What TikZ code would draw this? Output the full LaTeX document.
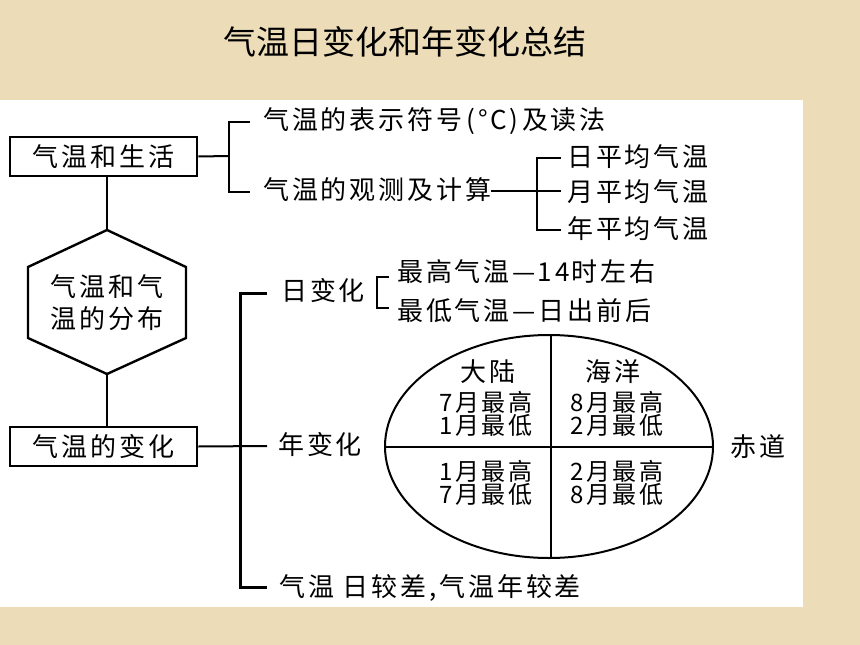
\documentclass[tikz,border=0pt]{standalone}
\usepackage{fontspec}
\setmainfont{Noto Sans CJK SC}
\newfontfamily\cjk[LetterSpace=11]{Noto Sans CJK SC}
\newfontfamily\cjkn{Noto Sans CJK SC}
\newfontfamily\cjktitle{Noto Sans CJK SC}
\usetikzlibrary{shapes.geometric}
\definecolor{parch}{RGB}{236,220,184}
\tikzset{
  lbl/.style={inner sep=0pt, font=\cjk\fontsize{26}{26}\selectfont, text height=20pt, text depth=3pt},
  lblw/.style={lbl, anchor=west},
  qlbl/.style={inner sep=0pt, font=\cjk\fontsize{24}{24}\selectfont, text height=17pt, text depth=3pt},
  boxnode/.style={draw, line width=2.6pt, inner sep=0pt, minimum width=187pt, minimum height=39pt, font=\cjk\fontsize{26}{26}\selectfont},
  conn/.style={line width=2pt},
  brk/.style={line width=2.6pt},
}
\begin{document}
\begin{tikzpicture}[x=1pt,y=-1pt]
\fill[parch] (0,0) rectangle (860,645);
\useasboundingbox (0,0) rectangle (860,645);
\fill[white] (0,100) rectangle (803,607);

% title
\node[inner sep=0pt, font=\cjktitle\fontsize{33}{33}\selectfont] (title) at (405,42) {气温日变化和年变化总结};

% left column
\node[boxnode] (b1) at (103.5,156.5) {气温和生活};
\node[boxnode] (b3) at (103.5,446.5) {气温的变化};

\coordinate (hT) at (107,230);
\coordinate (hUL) at (28,267);
\coordinate (hLL) at (28,338);
\coordinate (hB) at (107,374);
\coordinate (hLR) at (186,338);
\coordinate (hUR) at (186,267);
\draw[line width=2.4pt, line join=miter] (hT) -- (hUL) -- (hLL) -- (hB) -- (hLR) -- (hUR) -- cycle;
\node[lbl] (h1) at (107,288) {气温和气};
\node[lbl] (h2) at (107,320) {温的分布};

\draw[conn] (b1.south -| hT) -- (hT);
\draw[conn] (hB) -- (b3.north -| hB);

% upper branch
\coordinate (k1) at (229,156);
\draw[conn] (b1.east) -- (k1);
\node[lblw] (t1) at (263,121) {气温的表示符号\hspace{4pt}(\hspace{3pt}°C\hspace{2pt})\hspace{4pt}及读法};
\node[lblw] (t2) at (263,191) {气温的观测及计算};
\draw[brk] (250,122) -- (229,122) -- (229,192) -- (250,192);

\node[lblw] (a1) at (567,158) {日平均气温};
\node[lblw] (a2) at (567,193) {月平均气温};
\node[lblw] (a3) at (567,230) {年平均气温};
\coordinate (j2) at (561,191);
\draw[conn] (t2.east |- j2) -- (j2);
\draw[brk] (561,158) -- (537,158) -- (537,230) -- (561,230);

% lower branch
\coordinate (vt) at (240,293);
\coordinate (vb) at (240,587);
\node[lblw] (d1) at (281,292) {日变化};
\node[lblw] (y1) at (278,446) {年变化};
\node[lblw] (c1) at (279,588) {气温 日较差,\hspace{3pt}气温年较差};
\draw[line width=3pt] (267,293) -- (vt) -- (vb) -- (267,587);
\draw[conn] (b3.east) -- (267,446);

\node[lblw] (m1) at (397,273) {最高气温—\hspace{2pt}14\hspace{2pt}时左右};
\node[lblw] (m2) at (397,312) {最低气温—日出前后};
\draw[brk] (389,277) -- (377,277) -- (377,308) -- (389,308);

% ellipse
\node[draw, ellipse, line width=2pt, inner sep=0pt, minimum width=328pt, minimum height=223pt] (ell) at (549,446.5) {};
\draw[conn] (ell.west) -- (ell.east);
\draw[line width=2.4pt] ([xshift=2pt]ell.north) -- ([xshift=2pt]ell.south);

\node[lbl] (q1) at (488,373) {大陆};
\node[qlbl] (q2) at (486,404) {7月最高};
\node[qlbl] (q3) at (486,427) {1月最低};
\node[lbl] (q4) at (613,373) {海洋};
\node[qlbl] (q5) at (617,404) {8月最高};
\node[qlbl] (q6) at (617,427) {2月最低};
\node[qlbl] (q7) at (486,473) {1月最高};
\node[qlbl] (q8) at (486,496) {7月最低};
\node[qlbl] (q9) at (617,473) {2月最高};
\node[qlbl] (q10) at (617,496) {8月最低};
\node[lbl] (eq) at (758,448) {赤道};
\end{tikzpicture}
\end{document}
